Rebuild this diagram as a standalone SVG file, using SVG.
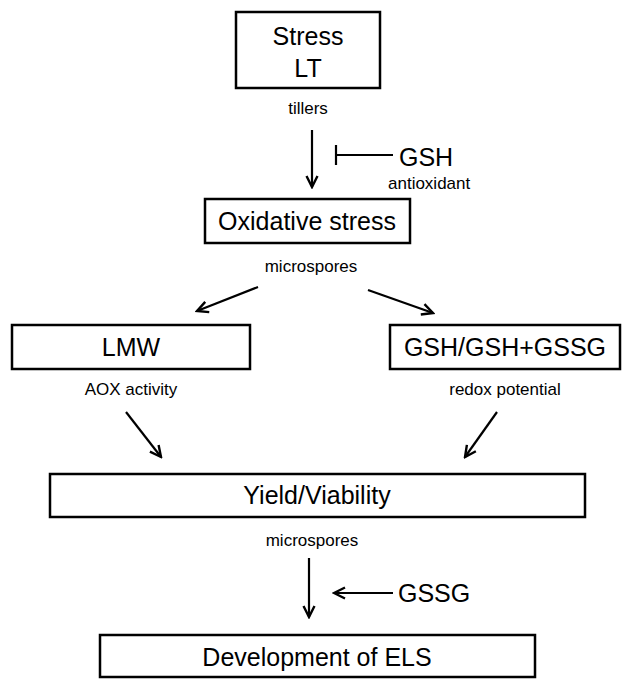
<svg xmlns="http://www.w3.org/2000/svg" width="624" height="679" viewBox="0 0 624 679">
<style>
.box{fill:#fff;stroke:#000;stroke-width:2.5}
.big{font-family:"Liberation Sans",Arial,sans-serif;font-size:25px;fill:#000;text-anchor:middle}
.bigl{font-family:"Liberation Sans",Arial,sans-serif;font-size:25px;fill:#000}
.sm{font-family:"Liberation Sans",Arial,sans-serif;font-size:17px;fill:#000;text-anchor:middle}
.smL{font-family:"Liberation Sans",Arial,sans-serif;font-size:17px;fill:#000}
.ln{stroke:#000;stroke-width:2.2;fill:none}
.arr{stroke:#000;stroke-width:2.2;fill:none;marker-end:url(#ah)}
</style>
<defs>
<marker id="ah" markerUnits="userSpaceOnUse" viewBox="0 0 14 14" refX="12" refY="7" markerWidth="14" markerHeight="14" orient="auto">
<path d="M1,1.5 L12,7 L1,12.5" fill="none" stroke="#000" stroke-width="2.4"/>
</marker>
</defs>
<g id="stress">
<rect class="box" x="236" y="12" width="144" height="76"/>
<text class="big" x="308" y="45">Stress</text>
<text class="big" x="308" y="77">LT</text>
<text class="sm" x="308" y="114">tillers</text>
</g>
<g id="gsh">
<text class="bigl" x="399" y="166">GSH</text>
<text class="smL" x="388" y="189">antioxidant</text>
</g>
<g id="oxidative">
<rect class="box" x="205" y="199" width="205" height="44"/>
<text class="big" x="307" y="230">Oxidative stress</text>
<text class="sm" x="311" y="272">microspores</text>
</g>
<g id="lmw">
<rect class="box" x="12" y="325" width="238" height="44"/>
<text class="big" x="131" y="356">LMW</text>
<text class="sm" x="131" y="395">AOX activity</text>
</g>
<g id="ratio">
<rect class="box" x="390" y="325" width="230" height="44"/>
<text class="big" x="505" y="356">GSH/GSH+GSSG</text>
<text class="sm" x="505" y="395">redox potential</text>
</g>
<g id="yield">
<rect class="box" x="50" y="474" width="535" height="43"/>
<text class="big" x="317" y="504">Yield/Viability</text>
<text class="sm" x="312" y="546">microspores</text>
</g>
<g id="gssg">
<text class="bigl" x="398" y="602">GSSG</text>
</g>
<g id="els">
<rect class="box" x="100" y="635" width="435" height="42"/>
<text class="big" x="317" y="666">Development of ELS</text>
</g>
<g id="connectors">
<line class="arr" x1="312" y1="130" x2="312" y2="187"/>
<line class="ln" x1="336" y1="155" x2="393" y2="155"/>
<line class="ln" x1="336" y1="145" x2="336" y2="165"/>
<line class="arr" x1="258" y1="287" x2="197" y2="311"/>
<line class="arr" x1="368" y1="290" x2="433" y2="313"/>
<line class="arr" x1="126" y1="412" x2="161" y2="457"/>
<line class="arr" x1="497" y1="412" x2="465" y2="457"/>
<line class="arr" x1="309" y1="558" x2="309" y2="617"/>
<line class="arr" x1="393" y1="593" x2="334" y2="593"/>
</g>
</svg>
